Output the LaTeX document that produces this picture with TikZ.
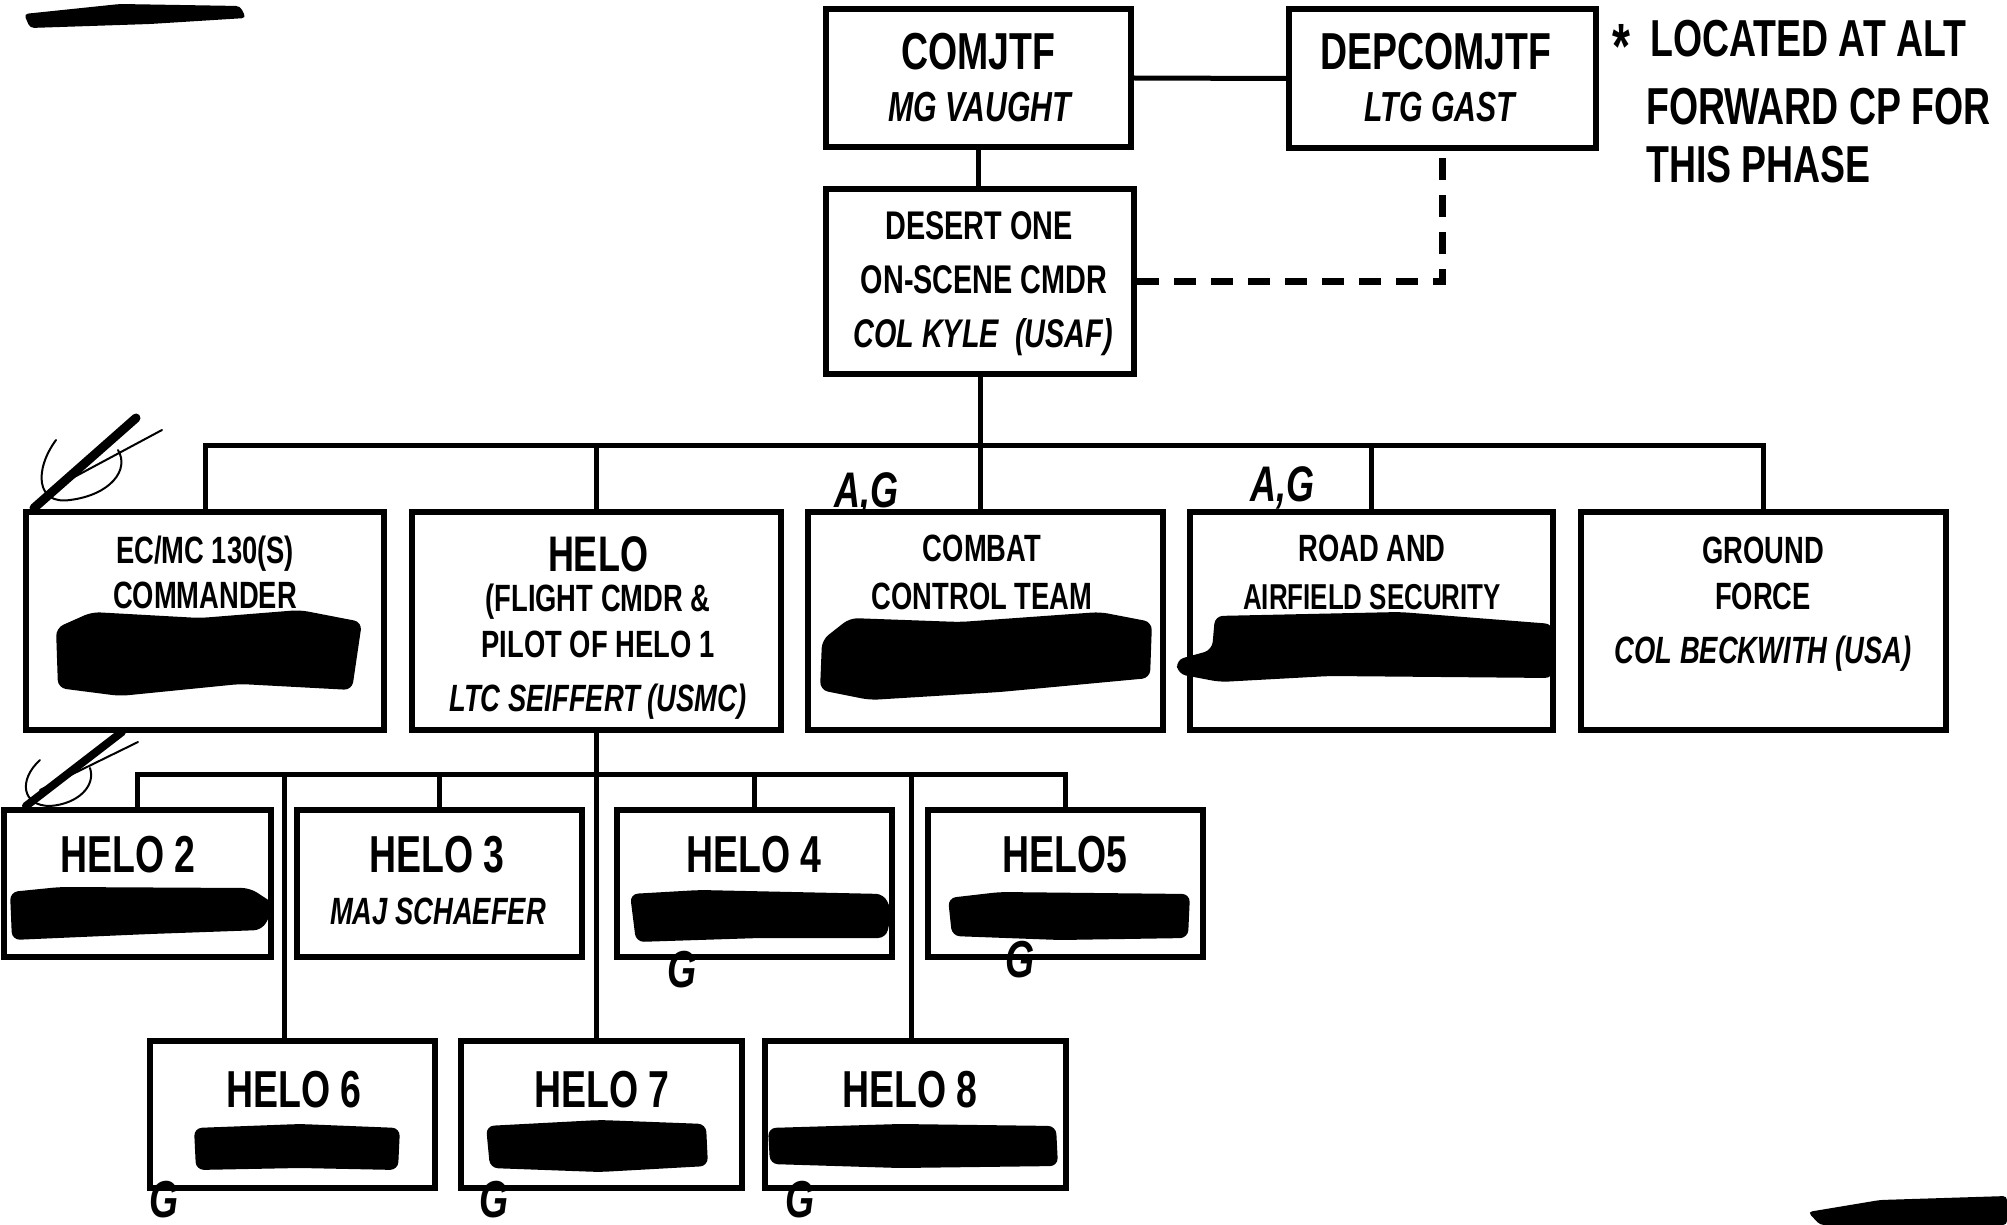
\documentclass[tikz,border=0pt]{standalone}
\usepackage{fontspec}
\newfontfamily\lbl{Liberation Sans}[FakeStretch=0.72]
\begin{document}
\begin{tikzpicture}[x=1pt,y=-1pt,line join=miter]
\useasboundingbox (0,0) rectangle (2007,1225);
\tikzset{
 box/.style={draw=black,line width=6pt,rectangle,inner sep=0pt},
 conn/.style={line width=5pt},
 dconn/.style={line width=6.5pt,dash pattern=on 22pt off 15pt},
 lab/.style={inner sep=0pt,anchor=base,font=\lbl\bfseries\fontsize{#1}{#1}\selectfont},
 ilab/.style={inner sep=0pt,anchor=base,font=\lbl\bfseries\itshape\fontsize{#1}{#1}\selectfont},
 hand/.style={inner sep=0pt,anchor=center,font=\lbl\bfseries\itshape\fontsize{#1}{#1}\selectfont},
 redact/.style={fill=black,draw=none,rounded corners=8pt},
 pen/.style={line width=#1,line cap=round},
}
% ---------- boxes ----------
\node[box,minimum width=305,minimum height=138] (comjtf) at (978.5,78) {};
\node[box,minimum width=307,minimum height=139] (dep) at (1442.5,78.5) {};
\node[box,minimum width=308,minimum height=185] (d1) at (980,281.5) {};
\node[box,minimum width=358,minimum height=218] (ec) at (205,621) {};
\node[box,minimum width=369,minimum height=218] (helo) at (596.5,621) {};
\node[box,minimum width=355,minimum height=218] (cct) at (985.5,621) {};
\node[box,minimum width=363,minimum height=218] (road) at (1371.5,621) {};
\node[box,minimum width=365,minimum height=218] (gf) at (1763.5,621) {};
\node[box,minimum width=267,minimum height=147] (h2) at (137.5,883.5) {};
\node[box,minimum width=285,minimum height=147] (h3) at (439.5,883.5) {};
\node[box,minimum width=275,minimum height=147] (h4) at (754.5,883.5) {};
\node[box,minimum width=275,minimum height=147] (h5) at (1065.5,883.5) {};
\node[box,minimum width=285,minimum height=147] (h6) at (292.5,1114.5) {};
\node[box,minimum width=281,minimum height=147] (h7) at (601.5,1114.5) {};
\node[box,minimum width=301,minimum height=147] (h8) at (915.5,1114.5) {};
% ---------- connectors ----------
\draw[conn] (comjtf.east) -- (dep.west);
\draw[conn] (comjtf.south) -- (comjtf.south |- d1.north);
\draw[dconn] (d1.east) -| (dep.south);
\coordinate (bus1) at (980,445);
\draw[conn] (d1.south) -- (bus1);
\draw[conn] (ec.north) -- (ec.north |- bus1) -- (gf.north |- bus1) -- (gf.north);
\draw[conn] (helo.north |- bus1) -- (helo.north);
\draw[conn] (bus1) -- (bus1 |- cct.north);
\draw[conn] (road.north |- bus1) -- (road.north);
\coordinate (bus2) at (598,774);
\draw[conn] (helo.south) -- (helo.south |- h7.north);
\draw[conn] (h2.north) -- (h2.north |- bus2) -- (h5.north |- bus2) -- (h5.north);
\draw[conn] (h3.north |- bus2) -- (h3.north);
\draw[conn] (h4.north |- bus2) -- (h4.north);
\coordinate (j6) at (284,774);
\coordinate (j8) at (911,774);
\draw[conn] (j6) -- (j6 |- h6.north);
\draw[conn] (j8) -- (j8 |- h8.north);
% ---------- redactions ----------
\path[redact] (56,628) -- (92,612) -- (200,618) -- (300,610) -- (362,622) -- (352,690) -- (240,684) -- (120,696) -- (58,688) -- cycle;
\path[redact] (822,640) -- (850,618) -- (960,622) -- (1100,612) -- (1152,622) -- (1150,678) -- (1000,692) -- (870,700) -- (820,690) -- cycle;
\path[redact] (1176,660) -- (1212,650) -- (1215,616) -- (1400,612) -- (1553,624) -- (1553,678) -- (1330,676) -- (1220,682) -- (1178,674) -- cycle;
\path[redact] (10,892) -- (60,887) -- (250,888) -- (276,905) -- (262,930) -- (150,934) -- (12,940) -- cycle;
\path[redact] (630,894) -- (700,890) -- (884,894) -- (892,912) -- (886,938) -- (760,938) -- (636,942) -- cycle;
\path[redact] (948,898) -- (1000,892) -- (1190,894) -- (1188,938) -- (1060,940) -- (952,936) -- cycle;
\path[redact] (194,1128) -- (300,1124) -- (400,1128) -- (398,1170) -- (300,1168) -- (196,1170) -- cycle;
\path[redact] (486,1126) -- (600,1120) -- (706,1124) -- (708,1166) -- (600,1172) -- (490,1168) -- cycle;
\path[redact] (768,1128) -- (900,1124) -- (1056,1126) -- (1058,1166) -- (900,1168) -- (770,1164) -- cycle;
% ---------- texts ----------
\node[lab=52] (t1) at (978,69.6) {COMJTF};
\node[ilab=42] (t2) at (980,122) {MG VAUGHT};
\node[lab=52] (t3) at (1436,69.6) {DEPCOMJTF};
\node[ilab=42] (t4) at (1440,122) {LTG GAST};
\node[lab=40] (t5) at (979,239.3) {DESERT ONE};
\node[lab=40] (t6) at (984,293.3) {ON-SCENE CMDR};
\node[ilab=40] (t7) at (983,347.3) {COL KYLE \ (USAF)};
\node[lab=38] (t8) at (205,563.6) {EC/MC 130(S)};
\node[lab=38] (t9) at (205,608.6) {COMMANDER};
\node[lab=50] (t10) at (598,571) {HELO};
\node[lab=38] (t11) at (598,611.6) {(FLIGHT CMDR \&};
\node[lab=38] (t12) at (598,657.6) {PILOT OF HELO 1};
\node[ilab=38] (t13) at (598,711.6) {LTC SEIFFERT (USMC)};
\node[lab=38] (t14) at (982,561.6) {COMBAT};
\node[lab=38] (t15) at (982,609.6) {CONTROL TEAM};
\node[lab=38] (t16) at (1372,561.6) {ROAD AND};
\node[lab=36] (t17) at (1372,609) {AIRFIELD SECURITY};
\node[lab=38] (t18) at (1763,563.6) {GROUND};
\node[lab=38] (t19) at (1763,609.6) {FORCE};
\node[ilab=38] (t20) at (1763,663.6) {COL BECKWITH (USA)};
\node[lab=52] (t21) at (128,872.6) {HELO 2};
\node[lab=52] (t22) at (437,872.6) {HELO 3};
\node[ilab=38] (t23) at (438,924.6) {MAJ SCHAEFER};
\node[lab=52] (t24) at (754,872.6) {HELO 4};
\node[lab=52] (t25) at (1065,872.6) {HELO5};
\node[lab=52] (t26) at (294,1107.6) {HELO 6};
\node[lab=52] (t27) at (602,1107.6) {HELO 7};
\node[lab=52] (t28) at (910,1107.6) {HELO 8};
\node[lab=64,anchor=center] (ast) at (1621,46) {*};
\node[lab=52,anchor=base west] (r1) at (1650,56.6) {LOCATED AT ALT};
\node[lab=52,anchor=base west] (r2) at (1646,124.6) {FORWARD CP FOR};
\node[lab=52,anchor=base west] (r3) at (1646,182.6) {THIS PHASE};
% ---------- handwritten marks ----------
\node[hand=50] (ag1) at (866,494) {A,G};
\node[hand=50] (ag2) at (1282,488) {A,G};
\node[hand=52] (g4) at (682,970) {G};
\node[hand=52] (g5) at (1020,960) {G};
\node[hand=52] (g6) at (164,1200) {G};
\node[hand=52] (g7) at (494,1200) {G};
\node[hand=52] (g8) at (800,1200) {G};
\draw[pen=9pt] (34,508) -- (136,418);
\draw[pen=2pt] (50,490) -- (162,430);
\draw[pen=2pt] (56,440) .. controls (34,470) and (36,505) .. (70,500) .. controls (110,495) and (130,470) .. (118,450);
\draw[pen=8pt] (26,806) -- (122,732);
\draw[pen=2pt] (40,790) -- (138,742);
\draw[pen=2pt] (40,760) .. controls (18,780) and (22,806) .. (50,806) .. controls (78,804) and (96,786) .. (90,768);
\path[redact,rounded corners=4pt] (24,14) -- (120,4) -- (240,6) -- (246,18) -- (150,24) -- (30,28) -- cycle;
\path[redact,rounded corners=4pt] (1808,1212) -- (1880,1200) -- (2007,1196) -- (2007,1225) -- (1820,1225) -- cycle;
\end{tikzpicture}
\end{document}
